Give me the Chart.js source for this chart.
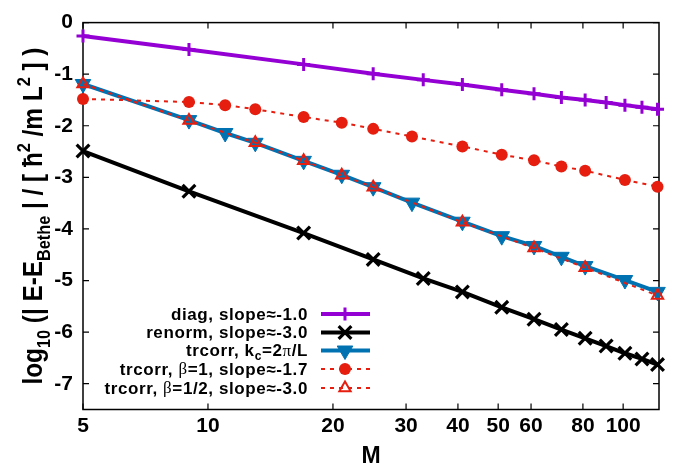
<!DOCTYPE html>
<html><head><meta charset="utf-8">
<script src="https://cdn.jsdelivr.net/npm/chart.js@4.4.1/dist/chart.umd.min.js"></script>
<style>html,body{margin:0;padding:0;background:#fff;} #wrap{width:677px;height:465px;}</style>
</head><body><div id="wrap"><canvas id="c" width="677" height="465"></canvas></div>
<script>
// ---- data ----
const M_diag   = [5,9,17,25,33,41,51,61,71,81,91,101,111,121];
const diag     = [-0.26,-0.52,-0.81,-0.99,-1.11,-1.20,-1.30,-1.38,-1.45,-1.50,-1.55,-1.60,-1.64,-1.68];
const M_renorm = [5,9,17,25,33,41,51,61,71,81,91,101,111,121];
const renorm   = [-2.49,-3.27,-4.08,-4.59,-4.96,-5.22,-5.52,-5.75,-5.95,-6.12,-6.27,-6.41,-6.52,-6.63];
const M_trcorr = [5,9,11,13,17,21,25,31,41,51,61,71,81,101,121];
const trcorr   = [-1.19,-1.89,-2.14,-2.33,-2.68,-2.95,-3.19,-3.49,-3.86,-4.14,-4.33,-4.54,-4.72,-4.99,-5.22];
const M_beta1  = [5,9,11,13,17,21,25,31,41,51,61,71,81,101,121];
const beta1    = [-1.48,-1.54,-1.60,-1.68,-1.83,-1.94,-2.06,-2.21,-2.40,-2.56,-2.67,-2.79,-2.87,-3.05,-3.18];
const M_beta12 = [5,9,13,17,21,25,41,61,81,121];
const beta12   = [-1.19,-1.90,-2.33,-2.68,-2.96,-3.19,-3.87,-4.37,-4.75,-5.29];

const xTicks = [5,10,20,30,40,50,60,80,100];
const yTicks = [0,-1,-2,-3,-4,-5,-6,-7];
const xTitle = 'M';

// legend labels as text segments: [text, style] style: n normal, g greek(serif), s subscript
const legendLabels = [
  [['diag, slope≈-1.0','n']],
  [['renorm, slope≈-3.0','n']],
  [['trcorr, k','n'],['c','s'],['=2','n'],['π','g'],['/L','n']],
  [['trcorr, ','n'],['β','g'],['=1, slope≈-1.7','n']],
  [['trcorr, ','n'],['β','g'],['=1/2, slope≈-3.0','n']]
];
const yTitleSegs = [['log','n'],['10','s'],[' (| E-E','n'],['Bethe','s'],[' | / [ ','n'],['ħ','n'],['2','p'],[' /m L','n'],['2','p'],[' ] )','n']];

const pts = (xs, ys) => xs.map((x,i)=>({x:x, y:ys[i]}));
const PURPLE='#9400d3', BLUE='#0072b2', RED='#e51e10';

const datasets = [
  {label:'diag', data:pts(M_diag,diag), borderColor:PURPLE, backgroundColor:PURPLE, borderWidth:4,
   pointStyle:'cross', pointRadius:6.5, pointBorderWidth:3, order:5},
  {label:'renorm', data:pts(M_renorm,renorm), borderColor:'#000', backgroundColor:'#000', borderWidth:4,
   pointStyle:'crossRot', pointRadius:9, pointBorderWidth:3.2, order:4},
  {label:'trcorr kc', data:pts(M_trcorr,trcorr), borderColor:BLUE, backgroundColor:BLUE, borderWidth:4,
   pointStyle:'triangle', pointRotation:180, pointRadius:9, pointBorderWidth:1, order:3},
  {label:'beta1', data:pts(M_beta1,beta1), borderColor:RED, backgroundColor:RED, borderWidth:2, borderDash:[4,5],
   pointStyle:'circle', pointRadius:6, pointBorderWidth:0, order:2},
  {label:'beta12', data:pts(M_beta12,beta12), borderColor:RED, backgroundColor:'rgba(0,0,0,0)', borderWidth:2, borderDash:[4,5],
   pointStyle:'triangle', pointRadius:6.5, pointBorderWidth:2, order:1}
];
datasets.forEach(d=>{ d.fill=false; d.tension=0; d.clip=false; d.pointBorderColor=d.borderColor;
  d.pointBackgroundColor = d.backgroundColor; });

const FONT = '"Liberation Sans", Arial, sans-serif';

function segFont(style, base){
  if (style==='g') return `${base}px "Liberation Serif", serif`;
  if (style==='s' || style==='p') return `bold ${Math.round(base*0.68)}px ${FONT}`;
  return `bold ${base}px ${FONT}`;
}
function segDy(style, base){
  if (style==='s') return base*0.3;
  if (style==='p') return -base*0.45;
  return 0;
}
function measureSegs(ctx, segs, base){
  let w=0; segs.forEach(([t,s])=>{ctx.font=segFont(s,base); w+=ctx.measureText(t).width;}); return w;
}
function drawSegs(ctx, segs, base, x, y){
  segs.forEach(([t,s])=>{ ctx.font=segFont(s,base); ctx.fillText(t, x, y+segDy(s,base)); x+=ctx.measureText(t).width; });
}

const framePlugin = {
  id:'frame',
  beforeDatasetsDraw(chart){
    const {ctx, chartArea:a, scales} = chart;
    ctx.save();
    ctx.strokeStyle='#000'; ctx.lineWidth=1.5;
    ctx.strokeRect(a.left, a.top, a.right-a.left, a.bottom-a.top);
    ctx.lineWidth=1.2;
    const L=6;
    ctx.beginPath();
    xTicks.forEach(v=>{ const x=scales.x.getPixelForValue(v);
      ctx.moveTo(x,a.bottom); ctx.lineTo(x,a.bottom-L); ctx.moveTo(x,a.top); ctx.lineTo(x,a.top+L); });
    yTicks.forEach(v=>{ const y=scales.y.getPixelForValue(v);
      ctx.moveTo(a.left,y); ctx.lineTo(a.left+L,y); ctx.moveTo(a.right,y); ctx.lineTo(a.right-L,y); });
    ctx.stroke();
    ctx.restore();
  },
  afterDraw(chart){
    const {ctx, chartArea:a} = chart;
    ctx.save();
    ctx.fillStyle='#000'; ctx.textBaseline='alphabetic';
    // y title
    const base=27;
    const w = measureSegs(ctx, yTitleSegs, base);
    const target = 337;
    ctx.translate(42, (a.top+a.bottom)/2);
    ctx.rotate(-Math.PI/2);
    ctx.scale(target/w, 1);
    drawSegs(ctx, yTitleSegs, base, -w/2, 0);
    ctx.restore();
    // x title
    ctx.save();
    ctx.fillStyle='#000'; ctx.font=`bold 23px ${FONT}`; ctx.textAlign='center'; ctx.textBaseline='alphabetic';
    ctx.fillText(xTitle, (a.left+a.right)/2, 463);
    ctx.restore();
    // legend
    ctx.save();
    try { ctx.letterSpacing = '0.6px'; } catch(e) {}
    const rowY=[314,332.5,350.5,369,388];
    const lb=17;
    legendLabels.forEach((segs,i)=>{
      const ds = datasets[i];
      const y=rowY[i];
      ctx.fillStyle='#000'; ctx.textBaseline='middle';
      const tw = measureSegs(ctx, segs, lb);
      drawSegs(ctx, segs, lb, 308-tw, y+1);
      ctx.strokeStyle=ds.borderColor; ctx.lineWidth=ds.borderWidth;
      ctx.setLineDash(ds.borderDash||[]);
      ctx.beginPath(); ctx.moveTo(321,y); ctx.lineTo(370,y); ctx.stroke();
      ctx.setLineDash([]);
      ctx.fillStyle=ds.pointBackgroundColor; ctx.strokeStyle=ds.pointBorderColor; ctx.lineWidth=ds.pointBorderWidth||0.001;
      Chart.helpers.drawPoint(ctx, {pointStyle:ds.pointStyle, rotation:ds.pointRotation||0, radius:ds.pointRadius, borderWidth:ds.pointBorderWidth}, 345, y);
    });
    ctx.restore();
  }
};

new Chart(document.getElementById('c'), {
  type:'line',
  data:{datasets},
  options:{
    responsive:false, animation:false, devicePixelRatio:1,
    layout:{padding:{top:16,right:18,bottom:0,left:0}},
    plugins:{legend:{display:false}, tooltip:{enabled:false}},
    scales:{
      x:{type:'logarithmic', min:5, max:122,
        grid:{display:false, drawTicks:false}, border:{display:false},
        afterBuildTicks:(s)=>{ s.ticks = xTicks.map(v=>({value:v})); },
        afterFit:(s)=>{ s.height=55.5; },
        ticks:{autoSkip:false, maxRotation:0, padding:4, color:'#000', font:{family:FONT, size:21, weight:'bold'},
          callback:(v)=>String(v)}},
      y:{type:'linear', min:-7.5, max:0,
        grid:{display:false, drawTicks:false}, border:{display:false},
        afterBuildTicks:(s)=>{ s.ticks = yTicks.map(v=>({value:v})); },
        afterFit:(s)=>{ s.width=83; },
        ticks:{padding:10, color:'#000', font:{family:FONT, size:21, weight:'bold'},
          callback:(v)=>String(v)}}
    }
  },
  plugins:[framePlugin]
});
</script></body></html>
